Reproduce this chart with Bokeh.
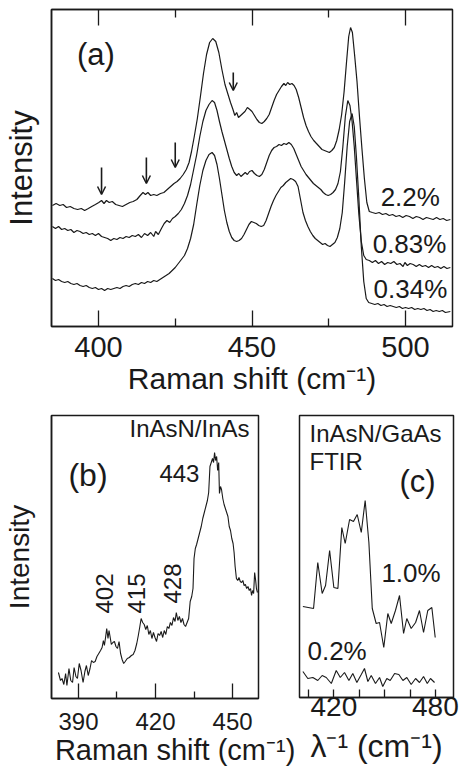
import math
from bokeh.plotting import figure
from bokeh.layouts import column, row
from bokeh.models import (Range1d, LinearAxis, FixedTicker, Label, Arrow,
                          OpenHead, ColumnDataSource)
from bokeh.embed import file_html
from bokeh.resources import INLINE

FONT = "Liberation Sans"
INK = "#1a1a1a"
NBSP = "\u00a0"

# ---------------- panel (a): Raman spectra, three N contents ----------------
a_x_top = [385.0, 386.2, 387.4, 388.5, 389.6, 390.8, 392.0, 393.2, 394.4, 395.5, 396.7, 397.8,
           399.0, 400.1, 401.0, 401.8, 402.6, 403.5, 404.5, 405.6, 406.7, 407.8, 409.0, 410.2,
           411.3, 412.5, 413.6, 414.5, 415.3, 416.1, 417.0, 418.0, 419.0, 420.2, 421.3, 422.4,
           423.5, 424.6, 425.6, 426.6, 427.6, 428.6, 429.5, 430.3, 431.2, 432.2, 433.2, 434.2,
           435.2, 436.2, 437.2, 438.2, 439.2, 440.2, 441.2, 442.2, 443.0, 443.8, 444.4, 445.0,
           445.6, 446.3, 447.0, 447.7, 448.5, 449.3, 450.0, 450.8, 451.6, 452.4, 453.2, 454.0,
           454.8, 455.6, 456.4, 457.2, 458.0, 458.8, 459.6, 460.4, 461.0, 461.6, 462.3, 463.0,
           463.7, 464.4, 465.2, 466.0, 466.8, 467.6, 468.4, 469.2, 470.1, 471.0, 471.9, 472.8,
           473.6, 474.4, 475.2, 476.0, 476.8, 477.6, 478.4, 479.2, 480.0, 480.8, 481.5, 482.1,
           482.7, 483.4, 484.2, 485.0, 485.8, 486.6, 487.4, 488.2, 489.2, 490.3, 491.4, 492.5,
           493.6, 494.7, 495.8, 496.9, 498.0, 499.1, 500.2, 501.3, 502.4, 503.5, 504.6, 505.7,
           506.8, 507.9, 509.0, 510.1, 511.2, 512.3, 513.4, 514.6]
a_y_top = [121, 123, 121, 122, 119, 120, 118, 117, 118, 116, 118, 120,
           122, 124, 126, 123, 126, 124, 125, 122, 121, 120, 122, 124,
           125, 127, 131, 134, 132, 134, 131, 132, 131, 133, 134, 137,
           140, 143, 145, 148, 152, 157, 164, 175, 190, 208, 230, 253,
           272, 284, 288, 285, 274, 257, 242, 232, 224, 217, 211, 214,
           209, 211, 213, 215, 219, 217, 215, 211, 207, 204, 203, 205,
           208, 212, 219, 226, 232, 236, 240, 243, 241, 244, 242, 243,
           241, 237, 229, 219, 209, 201, 195, 190, 186, 183, 180, 177,
           176, 175, 174, 176, 179, 186, 197, 212, 235, 265, 290, 299,
           294, 272, 245, 210, 178, 148, 124, 115, 114, 113, 114, 112,
           113, 111, 112, 110, 111, 109, 111, 110, 108, 110, 109, 107,
           109, 108, 107, 109, 107, 108, 106, 107]

a_x_mid = [385.0, 386.0, 387.0, 388.0, 389.0, 390.0, 391.0, 392.0, 393.0, 394.0, 395.0, 396.0,
           397.0, 398.0, 399.0, 400.0, 401.0, 402.0, 403.0, 404.0, 405.0, 406.0, 407.0, 408.0,
           409.0, 410.0, 411.0, 412.0, 413.0, 414.0, 415.0, 416.0, 417.0, 418.0, 418.6, 419.5,
           420.5, 421.4, 422.3, 423.2, 424.1, 425.0, 426.0, 427.0, 428.0, 429.0, 430.0, 431.0,
           432.0, 433.0, 434.0, 435.0, 436.0, 437.0, 437.8, 438.6, 439.4, 440.2, 441.0, 441.8,
           442.6, 443.4, 444.2, 445.0, 445.7, 446.4, 447.1, 447.8, 448.5, 449.2, 450.0, 450.8,
           451.6, 452.4, 453.2, 454.0, 454.8, 455.6, 456.4, 457.2, 458.0, 458.8, 459.6, 460.4,
           461.2, 462.0, 462.8, 463.6, 464.4, 465.2, 466.0, 466.8, 467.6, 468.4, 469.2, 470.0,
           470.8, 471.6, 472.4, 473.2, 474.0, 474.8, 475.6, 476.4, 477.2, 478.0, 478.8, 479.6,
           480.4, 481.2, 481.9, 482.6, 483.3, 484.0, 484.8, 485.6, 486.4, 487.2, 488.2, 489.2,
           490.2, 491.2, 492.2, 493.2, 494.2, 495.2, 496.2, 497.2, 498.2, 499.2, 499.8, 500.6,
           501.5, 502.5, 503.5, 504.5, 505.5, 506.5, 507.5, 508.5, 509.5, 510.5, 511.5, 512.5,
           513.5, 514.6]
a_y_mid = [100, 98, 100, 97, 98, 96, 97, 94, 96, 95, 93, 94,
           92, 93, 91, 93, 90, 89, 88, 86, 88, 87, 89, 88,
           90, 89, 91, 90, 92, 89, 93, 91, 94, 90, 95, 92,
           98, 103, 106, 104, 108, 110, 113, 117, 123, 131, 142, 157,
           172, 190, 205, 216, 222, 226, 224, 216, 205, 195, 186, 177,
           168, 160, 154, 151, 153, 150, 152, 154, 152, 155, 156, 153,
           151, 150, 152, 157, 164, 171, 176, 179, 180, 182, 181, 183,
           182, 184, 182, 178, 172, 166, 160, 156, 152, 149, 146, 143,
           141, 139, 137, 134, 132, 131, 132, 134, 137, 143, 155, 180,
           210, 226, 221, 205, 180, 148, 112, 85, 71, 67, 66, 64,
           66, 63, 65, 62, 64, 63, 65, 62, 63, 60, 64, 61,
           63, 62, 60, 62, 60, 61, 59, 61, 59, 60, 58, 60,
           58, 59]

a_x_low = [385.0, 386.0, 387.0, 388.0, 389.0, 390.0, 391.0, 392.0, 393.0, 394.0, 395.0, 396.0,
           397.0, 398.0, 399.0, 400.0, 401.0, 402.0, 403.0, 404.0, 405.0, 406.0, 407.0, 408.0,
           409.0, 410.0, 411.0, 412.0, 413.0, 414.0, 415.0, 416.0, 417.0, 418.0, 419.0, 420.0,
           421.0, 422.0, 423.0, 424.0, 425.0, 426.0, 427.0, 428.0, 429.0, 430.0, 431.0, 432.0,
           433.0, 434.0, 435.0, 436.0, 437.0, 437.8, 438.6, 439.4, 440.2, 441.0, 441.8, 442.6,
           443.4, 444.2, 445.0, 445.8, 446.6, 447.4, 448.2, 449.0, 449.8, 450.6, 451.4, 452.2,
           453.0, 453.8, 454.6, 455.4, 456.2, 457.0, 457.8, 458.6, 459.4, 460.2, 461.0, 461.8,
           462.6, 463.4, 464.2, 465.0, 465.8, 466.6, 467.4, 468.2, 469.0, 469.8, 470.6, 471.4,
           472.2, 473.0, 473.8, 474.6, 475.4, 476.2, 477.0, 477.8, 478.6, 479.4, 480.2, 481.0,
           481.8, 482.6, 483.3, 484.0, 484.8, 485.6, 486.4, 487.2, 488.0, 489.0, 490.0, 491.0,
           492.0, 493.0, 494.0, 495.0, 496.0, 497.0, 498.0, 499.0, 500.0, 501.0, 502.0, 503.0,
           504.0, 505.0, 506.0, 507.0, 508.0, 509.0, 510.0, 511.0, 512.0, 513.0, 514.6]
a_y_low = [48, 46, 47, 45, 44, 45, 43, 42, 43, 41, 40, 41,
           39, 38, 39, 37, 38, 36, 38, 37, 38, 39, 38, 40,
           41, 40, 42, 43, 42, 44, 43, 45, 44, 46, 45, 47,
           49, 51, 53, 56, 59, 63, 67, 71, 78, 88, 102, 122,
           141, 156, 166, 172, 174, 171, 162, 148, 132, 116, 104, 95,
           89, 86, 85, 86, 88, 92, 97, 102, 105, 104, 103, 101,
           100, 101, 106, 113, 120, 126, 131, 135, 139, 141, 144, 146,
           148, 147, 145, 140, 127, 114, 106, 100, 95, 91, 88, 86,
           84, 82, 83, 81, 80, 82, 84, 89, 98, 114, 145, 180,
           205, 213, 200, 170, 128, 80, 45, 28, 24, 23, 22, 23,
           21, 22, 20, 21, 20, 19, 20, 18, 19, 18, 19, 17,
           18, 17, 18, 16, 17, 15, 16, 15, 16, 14, 15]

a_series_labels = ["2.2%", "0.83%", "0.34%"]
a_arrow_x = [401.0, 415.6, 425.0, 443.9]
a_arrow_tail = [159, 169, 184, 254]
a_arrow_tip = [132, 143, 159, 236]

# ---------------- panel (b): InAsN/InAs Raman ----------------
b_x = [382.2, 383.0, 383.6, 384.3, 385.0, 385.5, 386.3, 387.0, 387.7, 388.3, 389.0, 389.6,
       390.3, 391.0, 391.8, 392.5, 393.1, 393.8, 394.5, 395.1, 395.8, 396.5, 397.2, 397.9,
       398.6, 399.2, 399.7, 400.1, 400.6, 401.0, 401.5, 401.9, 402.3, 402.8, 403.4, 404.0,
       404.6, 405.2, 405.8, 406.4, 407.0, 407.6, 408.2, 409.0, 409.8, 410.6, 411.3, 412.0,
       412.7, 413.3, 413.9, 414.4, 415.0, 415.6, 416.2, 416.8, 417.4, 418.0, 418.6, 419.2,
       419.8, 420.4, 421.0, 421.6, 422.2, 422.8, 423.4, 424.0, 424.6, 425.2, 425.8, 426.4,
       427.0, 427.6, 428.1, 428.7, 429.3, 429.9, 430.5, 431.1, 431.7, 432.3, 432.9, 433.5,
       434.1, 434.6, 435.0, 435.5, 436.0, 436.6, 437.2, 437.8, 438.4, 439.0, 439.6, 440.2,
       440.7, 441.2, 441.7, 442.2, 442.6, 443.0, 443.4, 443.8, 444.2, 444.6, 444.9, 445.3,
       445.7, 446.2, 446.7, 447.2, 447.7, 448.2, 448.7, 449.2, 449.7, 450.2, 450.6, 451.0,
       451.5, 452.0, 452.5, 453.0, 453.5, 454.0, 454.5, 455.0, 455.5, 456.0, 456.5, 457.0,
       457.4, 457.8, 458.2, 458.6, 459.0, 459.3, 459.7]
b_y = [26, 18, 20, 14, 25, 13, 30, 18, 16, 31, 22, 20,
       35, 28, 16, 27, 33, 23, 30, 38, 36, 37, 42, 45,
       48, 51, 58, 53, 62, 70, 60, 68, 62, 54, 56, 57,
       52, 50, 57, 45, 39, 35, 37, 40, 41, 43, 44, 48,
       55, 63, 72, 80, 76, 74, 69, 73, 64, 68, 60, 66,
       61, 57, 65, 63, 67, 61, 68, 64, 72, 70, 76, 73,
       81, 77, 86, 78, 82, 76, 80, 74, 72, 76, 80, 97,
       102, 110, 140, 150, 154, 160, 166, 172, 180, 186, 192, 198,
       206, 232, 236, 240, 236, 246, 238, 242, 228, 236, 205, 212,
       209, 200, 194, 190, 186, 182, 172, 168, 160, 155, 146, 132,
       120, 118, 121, 117, 116, 118, 113, 114, 110, 112, 108, 110,
       103, 108, 105, 126, 118, 110, 106]
b_peaks = [402, 415, 428, 443]

# ---------------- panel (c): InAsN/GaAs FTIR ----------------
c_x_hi = [401.7, 408.0, 410.5, 413.1, 415.1, 417.5, 420.0, 422.4, 424.7, 426.7, 429.3, 431.6,
          433.8, 436.2, 438.5, 440.7, 442.7, 445.0, 447.0, 449.5, 451.9, 453.9, 456.4, 458.8,
          461.2, 463.1, 465.7, 468.3, 470.6, 473.0, 475.5, 477.9, 479.9]
c_y_hi = [91, 89, 135, 104, 112, 147, 110, 109, 170, 154, 178, 176,
          183, 165, 197, 155, 89, 74, 75, 50, 84, 74, 87, 102,
          64, 79, 69, 75, 87, 65, 87, 90, 60]
c_x_lo = [401.7, 404.6, 407.6, 410.5, 413.1, 415.5, 418.5, 421.4, 423.8, 426.3, 428.9, 431.2,
          433.6, 436.2, 438.1, 440.1, 442.1, 444.6, 447.0, 448.9, 451.3, 453.3, 455.9, 458.4,
          460.8, 463.1, 465.7, 468.3, 470.6, 473.0, 475.2, 477.1, 479.5]
c_y_lo = [26, 19, 20, 17, 22, 20, 14, 27, 20, 25, 17, 24,
          15, 23, 29, 16, 22, 14, 20, 11, 19, 17, 24, 23,
          17, 20, 13, 19, 15, 21, 14, 19, 15]
c_series_labels = ["1.0%", "0.2%"]


def panel(fw, fh, xr, yr, left, right, top, bottom, with_y_label):
    p = figure(frame_width=fw, frame_height=fh, x_range=Range1d(*xr), y_range=Range1d(*yr),
               output_backend="svg", toolbar_location=None,
               y_axis_location="left" if with_y_label else None,
               min_border_left=left, min_border_right=right,
               min_border_top=top, min_border_bottom=bottom)
    p.grid.visible = False
    p.outline_line_color = INK
    p.outline_line_width = 1.5
    p.background_fill_color = "white"
    p.border_fill_color = "white"
    return p


def style_xaxis(ax, ticks, minor, major_in, minor_in, font_size, standoff):
    ax.ticker = FixedTicker(ticks=ticks, minor_ticks=minor)
    ax.major_tick_in = major_in
    ax.major_tick_out = 0
    ax.minor_tick_in = minor_in
    ax.minor_tick_out = 0
    ax.major_tick_line_color = INK
    ax.minor_tick_line_color = INK
    ax.major_tick_line_width = 1.3
    ax.minor_tick_line_width = 1.3
    ax.axis_line_color = INK
    ax.axis_line_width = 1.5
    ax.major_label_text_font = FONT
    ax.major_label_text_font_size = font_size
    ax.major_label_text_color = INK
    ax.major_label_standoff = standoff


def axis_title(ax, label, size, standoff):
    ax.axis_label = label
    ax.axis_label_text_font = FONT
    ax.axis_label_text_font_size = size
    ax.axis_label_text_font_style = "normal"
    ax.axis_label_text_color = INK
    ax.axis_label_standoff = standoff


def style_yaxis(ax, label, size, standoff):
    ax.ticker = FixedTicker(ticks=[])
    ax.major_tick_in = 0
    ax.major_tick_out = 0
    ax.minor_tick_in = 0
    ax.minor_tick_out = 0
    ax.major_label_standoff = 0
    ax.axis_line_color = INK
    ax.axis_line_width = 1.5
    axis_title(ax, label, size, standoff)


def text(p, x, y, s, size, align="left", angle=0.0):
    p.add_layout(Label(x=x, y=y, text=s, text_font=FONT, text_font_size=size,
                       text_color=INK, text_align=align, text_baseline="alphabetic",
                       angle=angle))


# ---- (a) ----
pa = panel(401, 317, (384.7, 515.3), (0, 317), 50, 10, 9, 84, True)
for xs, ys in ((a_x_top, a_y_top), (a_x_mid, a_y_mid), (a_x_low, a_y_low)):
    pa.line(xs, ys, line_color=INK, line_width=1.2)
style_xaxis(pa.xaxis[0], [400, 450, 500], [425, 475], 16, 8, "29px", 10)
axis_title(pa.xaxis[0], "Raman shift (cm\u207b\u00b9)", "30px", 2)
style_yaxis(pa.yaxis[0], "Intensity", "31px", 13)
top_axis = LinearAxis()
style_xaxis(top_axis, [400, 450, 500], [425, 475], 16, 8, "0px", 0)
top_axis.major_label_text_alpha = 0
pa.add_layout(top_axis, "above")

arrows = ColumnDataSource(dict(x=a_arrow_x, y0=a_arrow_tail, y1=a_arrow_tip))
pa.add_layout(Arrow(end=OpenHead(size=8, line_width=1.5, line_color=INK),
                    x_start="x", y_start="y0", x_end="x", y_end="y1",
                    source=arrows, line_color=INK, line_width=1.6))

text(pa, 393.0, 272, "(a)", "31px")
text(pa, 491.9, 130, a_series_labels[0], "26px")
text(pa, 489.3, 83, a_series_labels[1], "26px")
text(pa, 489.6, 38, a_series_labels[2], "26px")

# ---- (b) ----
pb = panel(207, 283, (379.5, 460.1), (0, 283), 50, 40, 5, 79, True)
pb.line(b_x, b_y, line_color=INK, line_width=1.1)
style_xaxis(pb.xaxis[0], [390, 420, 450], [405, 435], 15, 7, "24px", 14)
# the title runs past the frame's right edge, so it is padded on its left
axis_title(pb.xaxis[0], NBSP * 5 + "Raman shift (cm\u207b\u00b9)", "29px", 1)
style_yaxis(pb.yaxis[0], "Intensity", "28px", 17)
text(pb, 386.1, 224, "(b)", "32px")
text(pb, 456.6, 270, "InAsN/InAs", "24px", align="right")
text(pb, 437.1, 225, str(b_peaks[3]), "24px", align="right")
text(pb, 400.0, 85, str(b_peaks[0]), "24px", angle=math.pi / 2)
text(pb, 412.5, 85, str(b_peaks[1]), "24px", angle=math.pi / 2)
text(pb, 426.5, 95, str(b_peaks[2]), "24px", angle=math.pi / 2)

# ---- (c) ----
pc = panel(154, 282, (399.7, 490.7), (0, 282), 1, 9, 3, 82, False)
pc.line(c_x_hi, c_y_hi, line_color=INK, line_width=1.1)
pc.line(c_x_lo, c_y_lo, line_color=INK, line_width=1.1)
style_xaxis(pc.xaxis[0], [420, 480], [405, 435, 450, 465], 8, 8, "28px", -1)
axis_title(pc.xaxis[0], "\u03bb\u207b\u00b9 (cm\u207b\u00b9)", "32px", 9)
text(pc, 405.6, 264, "InAsN/GaAs", "24px")
text(pc, 405.6, 236, "FTIR", "24px")
text(pc, 458.8, 216, "(c)", "31px")
text(pc, 448.1, 125, c_series_labels[0], "26px")
text(pc, 404.4, 47, c_series_labels[1], "26px")

layout = column(pa, row(pb, pc, spacing=0), spacing=0)

with open("out.html", "w") as f:
    f.write(file_html(layout, INLINE, title="InAsN Raman and FTIR spectra"))
